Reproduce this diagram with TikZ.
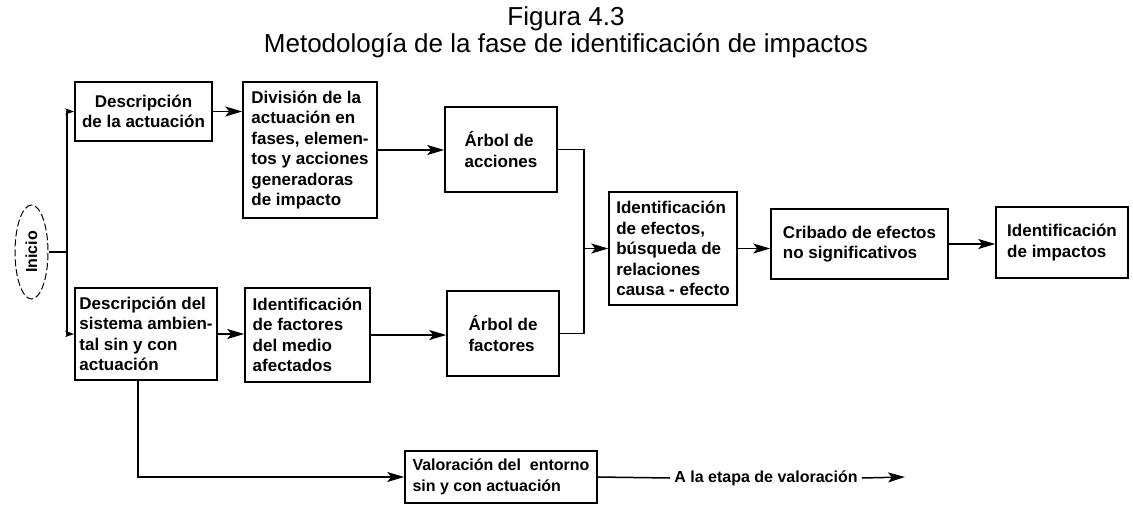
\documentclass[tikz,border=0pt]{standalone}
\usepackage{fontspec}
\setmainfont{Liberation Sans}
\usetikzlibrary{arrows.meta,shapes.geometric}

\newlength{\du}
\setlength{\du}{1pt}

\tikzset{
  titulo/.style={anchor=base, font=\fontsize{26}{30}\selectfont},
  caja/.style={draw=dialinecolor, line width=1.5\du, inner sep=0pt, align=left,
    font=\fontsize{17}{20.5}\selectfont\bfseries},
  conector/.style={draw=dialinecolor, line width=1.5\du},
  flecha/.style={conector, -{Stealth[length=17pt,width=10pt,inset=4pt]}},
  flechita/.style={conector, -{Stealth[length=9pt,width=6pt,inset=2pt]}},
}

\begin{document}
\begin{tikzpicture}
\pgftransformxscale{1.000000}
\pgftransformyscale{-1.000000}
\definecolor{dialinecolor}{rgb}{0.000000, 0.000000, 0.000000}
\pgfsetstrokecolor{dialinecolor}
\useasboundingbox (0\du,0\du) rectangle (1133\du,504\du);
% titulo
\node[titulo] (fig) at (566\du,25\du){Figura 4.3};
\node[titulo] (met) at (566\du,52\du){Metodología de la fase de identificación de impactos};
% inicio
\node[draw=dialinecolor, ellipse, rotate=90, line width=1\du, dash pattern=on 7pt off 3pt,
  minimum width=94\du, minimum height=33\du, inner sep=0pt,
  font=\fontsize{16}{18}\selectfont\bfseries] (inicio) at (31.5\du,252\du){Inicio};
\coordinate (fork) at (67\du,252\du);
% columna 1
\node[caja, align=center, minimum width=137\du, minimum height=59\du] (descAct) at (143.5\du,111.5\du){Descripción\\de la actuación};
\node[caja, minimum width=142\du, minimum height=92\du] (descSis) at (146\du,334\du){Descripción del\\sistema ambien-\\tal sin y con\\actuación};
% columna 2
\node[caja, minimum width=134\du, minimum height=136\du] (division) at (310\du,150\du){División de la\\actuación en\\fases, elemen-\\tos y acciones\\generadoras\\de impacto};
\node[caja, minimum width=125\du, minimum height=94\du] (identFact) at (307.5\du,335\du){Identificación\\de factores\\del medio\\afectados};
% columna 3
\node[caja, minimum width=112\du, minimum height=85\du] (arbolAcc) at (501\du,149.5\du){Árbol de\\acciones};
\node[caja, minimum width=112\du, minimum height=85\du] (arbolFac) at (503\du,333.5\du){Árbol de\\factores};
\coordinate (union) at (584\du,248.5\du);
% columna 4 a 6
\node[caja, minimum width=128\du, minimum height=113\du] (identEf) at (673\du,248.5\du){Identificación\\de efectos,\\búsqueda de\\relaciones\\causa - efecto};
\node[caja, minimum width=177\du, minimum height=70\du] (cribado) at (859.5\du,244\du){Cribado de efectos\\no significativos};
\node[caja, minimum width=132\du, minimum height=71\du] (identImp) at (1062\du,242.5\du){Identificación\\de impactos};
% valoracion
\node[caja, minimum width=192\du, minimum height=52\du, font=\fontsize{16}{20.5}\selectfont\bfseries] (valoracion) at (501\du,477\du){Valoración del~ entorno\\sin y con actuación};
\node[inner sep=4\du, font=\fontsize{16}{20.5}\selectfont\bfseries] (etapa) at (766\du,478\du){A la etapa de valoración};
\coordinate (fin) at (905\du,477\du);

% conectores
\draw[conector] (inicio) -- (fork);
\draw[flechita] (fork) |- (descAct.west);
\draw[flechita] (fork) |- (descSis.west);
\draw[flecha] (descAct.east) -- (descAct.east -| division.west);
\draw[flecha] (division.east) -- (division.east -| arbolAcc.west);
\draw[flecha] (descSis.east) -- (descSis.east -| identFact.west);
\draw[flecha] (identFact.east) -- (identFact.east -| arbolFac.west);
\draw[conector] (arbolAcc.east) -| (union);
\draw[conector] (arbolFac.east) -| (union);
\draw[flecha] (union) -- (identEf.west);
\draw[flecha] (identEf.east) -- (identEf.east -| cribado.west);
\draw[flecha] (cribado.east) -- (cribado.east -| identImp.west);
\draw[flecha] ([xshift=-8\du]descSis.south) |- (valoracion.west);
\draw[conector] (valoracion.east) -- (etapa.west);
\draw[flecha] (etapa.east) -- (fin);
\end{tikzpicture}
\end{document}
